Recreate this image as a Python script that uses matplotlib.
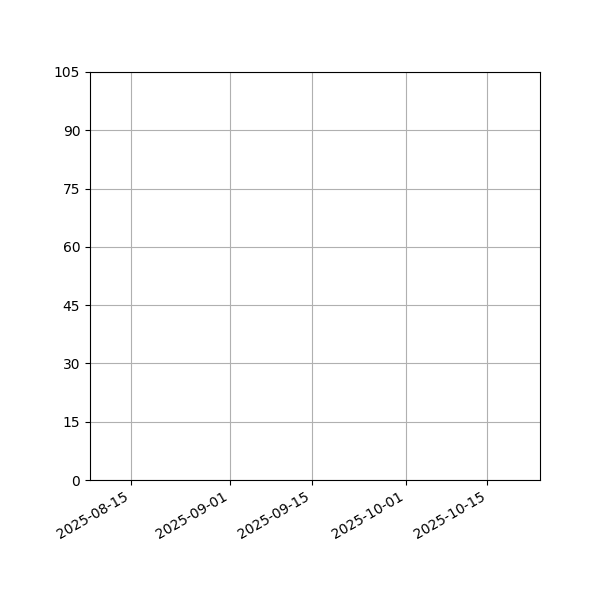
import matplotlib
matplotlib.use("Agg")
import matplotlib.pyplot as plt
import matplotlib.dates as mdates
import numpy as np
import datetime as dt

# Data (the reference chart shows no visible series)
dates = []
values = []

x_start = dt.datetime(2025, 8, 8)
x_end = dt.datetime(2025, 10, 24)
x_ticks = [dt.datetime(2025, 8, 15), dt.datetime(2025, 9, 1), dt.datetime(2025, 9, 15),
           dt.datetime(2025, 10, 1), dt.datetime(2025, 10, 15)]
y_ticks = [0, 15, 30, 45, 60, 75, 90, 105]

fig = plt.figure(figsize=(6, 6), dpi=100)
ax = fig.add_axes([0.15, 0.2, 0.75, 0.68])
ax.plot(dates, values)
ax.set_xlim(x_start, x_end)
ax.set_ylim(0, 105)
ax.set_yticks(y_ticks)
ax.set_xticks(x_ticks)
ax.xaxis.set_major_formatter(mdates.DateFormatter("%Y-%m-%d"))
ax.grid(True)
for lbl in ax.get_xticklabels():
    lbl.set_rotation(30)
    lbl.set_ha("right")
fig.savefig("out.png", dpi=100)
